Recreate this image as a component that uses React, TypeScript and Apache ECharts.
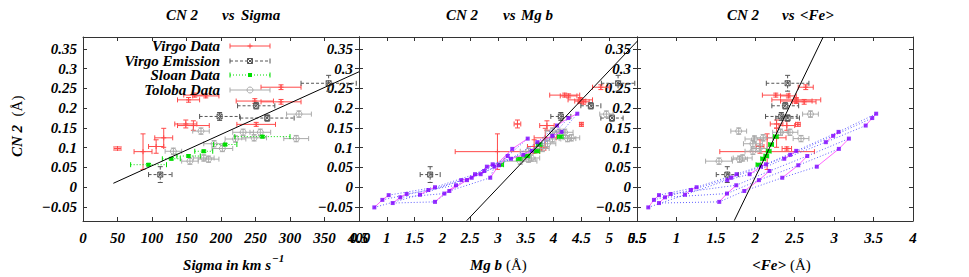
import React, { useEffect, useRef } from "react";
import * as echarts from "echarts";

const FONT = '"Liberation Serif", "DejaVu Serif", serif';

// ---- axes ----
const yTickValues = [-0.05, 0, 0.05, 0.1, 0.15, 0.2, 0.25, 0.3, 0.35];
const yRange = [-0.0854, 0.38];
const sigmaRange = [0, 400];
const mgbRange = [0.5, 5.5];
const feRange = [0.5, 4];

// ---- Virgo Data ----
const virgoSigma = [50, 87, 106, 117, 149, 160, 153, 162, 178, 287, 249, 287, 251];
const virgoSigmaErr = [5, 13, 11, 13, 16, 23, 16, 16, 19, 29, 27, 29, 28];
const virgoMgb = [3.78, 2.99, 3.65, 3.85, 3.35, 3.88, 4.48, 4.2, 4.27, 4.85, 4.48, 4.54, 4.5];
const virgoMgbErr = [0.08, 0.76, 0.12, 0.2, 0.06, 0.13, 0.22, 0.27, 0.15, 0.15, 0.1, 0.1, 0.03];
const virgoFe = [2.4, 2.15, 2.06, 2.27, 2.27, 2.4, 2.52, 2.26, 2.42, 2.64, 2.52, 2.62, 2.54];
const virgoFeErr = [0.06, 0.6, 0.05, 0.12, 0.08, 0.1, 0.31, 0.17, 0.1, 0.095, 0.2, 0.15, 0.03];
const virgoCN2 = [0.098, 0.09, 0.103, 0.125, 0.16, 0.156, 0.221, 0.233, 0.231, 0.253, 0.218, 0.216, 0.159];
const virgoCN2Err = [0.004, 0.045, 0.017, 0.024, 0.01, 0.012, 0.006, 0.005, 0.005, 0.006, 0.006, 0.006, 0.005];

// ---- Virgo Emission ----
const emSigma = [112, 198, 251, 267, 356];
const emSigmaErr = [17, 29, 27, 39, 40];
const emMgb = [1.78, 4.13, 4.67, 5.05, 5.16];
const emMgbErr = [0.18, 0.18, 0.18, 0.2, 0.3];
const emFe = [1.645, 2.33, 2.38, 2.41, 2.41];
const emFeErr = [0.14, 0.2, 0.17, 0.15, 0.27];
const emCN2 = [0.032, 0.179, 0.206, 0.175, 0.263];
const emCN2Err = [0.02, 0.01, 0.008, 0.008, 0.02];

// ---- Sloan Data ----
const sloanSigma = [95, 128, 153, 175, 206, 260];
const sloanSigmaErr = [26, 13, 17, 13, 17, 40];
const sloanMgb = [3.05, 3.38, 3.52, 3.7, 3.74, 4.12];
const sloanMgbErr = [0.05, 0.05, 0.05, 0.05, 0.05, 0.05];
const sloanFe = [2.04, 2.1, 2.14, 2.17, 2.2, 2.26];
const sloanFeErr = [0.03, 0.03, 0.03, 0.03, 0.03, 0.03];
const sloanCN2 = [0.057, 0.072, 0.079, 0.091, 0.108, 0.128];
const sloanCN2Err = [0.003, 0.003, 0.003, 0.003, 0.003, 0.003];

// ---- Toloba Data ----
const tolSigma = [131, 155, 175, 182, 171, 190, 202, 221, 232, 248, 257, 309, 313];
const tolSigmaErr = [12, 12, 15, 15, 12, 15, 15, 15, 15, 18, 15, 18, 18];
const tolMgb = [3.55, 3.4, 3.6, 3.55, 3.98, 3.89, 3.8, 3.98, 4.2, 4.32, 4.1, 4.25, 4.95];
const tolMgbErr = [0.15, 0.3, 0.15, 0.12, 0.12, 0.15, 0.12, 0.15, 0.15, 0.15, 0.12, 0.15, 0.12];
const tolFe = [1.97, 1.54, 1.84, 1.8, 1.79, 1.97, 2.05, 1.99, 2.32, 2.1, 2.44, 2.58, 2.7];
const tolFeErr = [0.1, 0.17, 0.12, 0.1, 0.1, 0.12, 0.1, 0.12, 0.1, 0.12, 0.1, 0.1, 0.1];
const tolCN2 = [0.091, 0.066, 0.074, 0.071, 0.142, 0.11, 0.098, 0.122, 0.139, 0.125, 0.139, 0.123, 0.185];
const tolCN2Err = [0.008, 0.008, 0.008, 0.008, 0.008, 0.008, 0.008, 0.008, 0.008, 0.008, 0.008, 0.008, 0.008];

// ---- model grids: [metallicity][age] ----
const modelUMgb = [
  [0.776, 0.92, 1.034], [1.597, 1.747, 1.867], [2.34, 2.527, 2.586], [2.688, 2.8, 2.904],
  [3.234, 3.455, 3.606], [3.707, 3.977, 4.146], [4.061, 4.265, 4.426],
];
const modelUFe = [
  [0.643, 0.715, 0.779], [1.108, 1.184, 1.256], [1.645, 1.696, 1.763], [1.928, 2.072, 2.135],
  [2.367, 2.443, 2.519], [2.895, 2.988, 3.056], [3.4, 3.483, 3.533],
];
const modelUCN2 = [
  [-0.051, -0.032, -0.02], [-0.019, -0.007, 0.0], [0.018, 0.024, 0.033], [0.033, 0.052, 0.058],
  [0.072, 0.082, 0.092], [0.114, 0.13, 0.14], [0.156, 0.175, 0.186],
];
const modelDMgb = [
  [1.106, 1.243, 1.357], [1.867, 2.035, 2.245], [2.125, 2.442, 2.754], [2.86, 3.018, 3.174], [2.934, 3.257, 3.534],
];
const modelDFe = [
  [0.779, 0.855, 0.927], [1.543, 1.641, 1.759], [1.86, 2.046, 2.18], [2.342, 2.545, 2.659], [2.78, 3.06, 3.187],
];
const modelDCN2 = [
  [-0.04, -0.0255, -0.017], [-0.037, -0.016, 0.005], [-0.0095, 0.018, 0.041], [0.024, 0.0556, 0.079], [0.052, 0.097, 0.123],
];

// ---- fit lines ----
const fitSigmaX = [44, 400];
const fitSigmaY = [0.01, 0.292];
const fitMgbX = [2.437, 5.55];
const fitMgbY = [-0.0846, 0.376];
const fitFeX = [1.733, 2.861];
const fitFeY = [-0.0846, 0.38];

const RED = "#ff4a4a";
const DGRAY = "#555555";
const GREEN = "#00dd00";
const LGRAY = "#ababab";
const PURPLE = "#7a00ff";
const BLUE = "#6060ff";
const MAGENTA = "#ff66ff";

type Marker = "plus" | "xbox" | "square" | "circle";

function markerShapes(cx: number, cy: number, marker: Marker, color: string): any[] {
  const s = { stroke: color, lineWidth: 1, fill: "none" };
  if (marker === "plus") {
    return [
      { type: "line", shape: { x1: cx - 2.5, y1: cy, x2: cx + 2.5, y2: cy }, style: s },
      { type: "line", shape: { x1: cx, y1: cy - 2.5, x2: cx, y2: cy + 2.5 }, style: s },
    ];
  }
  if (marker === "xbox") {
    return [
      { type: "rect", shape: { x: cx - 2.5, y: cy - 2.5, width: 5, height: 5 }, style: s },
      { type: "line", shape: { x1: cx - 2.5, y1: cy - 2.5, x2: cx + 2.5, y2: cy + 2.5 }, style: s },
      { type: "line", shape: { x1: cx - 2.5, y1: cy + 2.5, x2: cx + 2.5, y2: cy - 2.5 }, style: s },
    ];
  }
  if (marker === "square") {
    return [{ type: "rect", shape: { x: cx - 2, y: cy - 2, width: 4, height: 4 }, style: { fill: color } }];
  }
  return [{ type: "circle", shape: { cx, cy, r: 3 }, style: s }];
}

function errorSeries(
  gridIdx: number, xs: number[], xe: number[], ys: number[], ye: number[],
  color: string, dash: number[] | null, marker: Marker, z: number
) {
  return {
    type: "custom",
    xAxisIndex: gridIdx,
    yAxisIndex: gridIdx,
    silent: true,
    z,
    encode: { x: 0, y: 1 },
    data: xs.map((x, i) => [x, ys[i], xe[i], ye[i]]),
    renderItem: (_p: any, api: any) => {
      const x = api.value(0), y = api.value(1), dx = api.value(2), dy = api.value(3);
      const c = api.coord([x, y]);
      const l = api.coord([x - dx, y]);
      const r = api.coord([x + dx, y]);
      const t = api.coord([x, y + dy]);
      const b = api.coord([x, y - dy]);
      const st: any = { stroke: color, lineWidth: 1, fill: "none" };
      if (dash) st.lineDash = dash;
      const cap = 2.5;
      const children: any[] = [
        { type: "line", shape: { x1: l[0], y1: c[1], x2: r[0], y2: c[1] }, style: st },
        { type: "line", shape: { x1: c[0], y1: t[1], x2: c[0], y2: b[1] }, style: st },
        { type: "line", shape: { x1: l[0], y1: c[1] - cap, x2: l[0], y2: c[1] + cap }, style: { stroke: color, lineWidth: 1 } },
        { type: "line", shape: { x1: r[0], y1: c[1] - cap, x2: r[0], y2: c[1] + cap }, style: { stroke: color, lineWidth: 1 } },
        { type: "line", shape: { x1: c[0] - cap, y1: t[1], x2: c[0] + cap, y2: t[1] }, style: { stroke: color, lineWidth: 1 } },
        { type: "line", shape: { x1: c[0] - cap, y1: b[1], x2: c[0] + cap, y2: b[1] }, style: { stroke: color, lineWidth: 1 } },
        ...markerShapes(c[0], c[1], marker, color),
      ];
      return { type: "group", children };
    },
  };
}

function modelSeries(gridIdx: number, xGrid: number[][], yGrid: number[][]) {
  const out: any[] = [];
  const nAge = xGrid[0].length;
  for (let a = 0; a < nAge; a++) {
    out.push({
      type: "line", xAxisIndex: gridIdx, yAxisIndex: gridIdx, silent: true, z: 5,
      symbol: "none", lineStyle: { color: BLUE, width: 1, type: [1, 2] },
      data: xGrid.map((row, zi) => [row[a], yGrid[zi][a]]),
    });
  }
  xGrid.forEach((row, zi) => {
    out.push({
      type: "line", xAxisIndex: gridIdx, yAxisIndex: gridIdx, silent: true, z: 5,
      symbol: "none", lineStyle: { color: MAGENTA, width: 1 },
      data: row.map((v, a) => [v, yGrid[zi][a]]),
    });
  });
  const pts: number[][] = [];
  xGrid.forEach((row, zi) => row.forEach((v, a) => pts.push([v, yGrid[zi][a]])));
  out.push({
    type: "scatter", xAxisIndex: gridIdx, yAxisIndex: gridIdx, silent: true, z: 6,
    symbol: "rect", symbolSize: 4, itemStyle: { color: PURPLE }, data: pts,
  });
  return out;
}

function fitSeries(gridIdx: number, xs: number[], ys: number[]) {
  return {
    type: "line", xAxisIndex: gridIdx, yAxisIndex: gridIdx, silent: true, z: 7, clip: true,
    symbol: "none", lineStyle: { color: "#000", width: 1 },
    data: xs.map((x, i) => [x, ys[i]]),
  };
}

const labelFont = { fontFamily: FONT, fontStyle: "italic", fontWeight: "bold", fontSize: 15, color: "#000" };
const frameLine = { show: true, onZero: false, lineStyle: { color: "#333", width: 1 } };

function buildOption() {
  const grids = [
    { left: 83, top: 37, width: 276, height: 184 },
    { left: 359, top: 37, width: 278, height: 184 },
    { left: 637, top: 37, width: 276, height: 184 },
  ];
  const xr = [sigmaRange, mgbRange, feRange];
  const xi = [50, 0.5, 0.5];
  const xAxis: any[] = [];
  const yAxis: any[] = [];
  for (let i = 0; i < 3; i++) {
    xAxis.push({
      type: "value", gridIndex: i, position: "bottom", min: xr[i][0], max: xr[i][1], interval: xi[i],
      axisLine: frameLine, splitLine: { show: false },
      axisTick: { show: true, inside: true, length: 4, lineStyle: { color: "#333" } },
      axisLabel: { ...labelFont, margin: 9, showMinLabel: true, showMaxLabel: true, formatter: (v: number) => String(v) },
    });
  }
  for (let i = 0; i < 3; i++) {
    xAxis.push({
      type: "value", gridIndex: i, position: "top", min: xr[i][0], max: xr[i][1], interval: xi[i],
      axisLine: frameLine, splitLine: { show: false },
      axisTick: { show: true, inside: true, length: 4, lineStyle: { color: "#333" } },
      axisLabel: { show: false },
    });
  }
  const yFmt = (v: number) => {
    const r = Math.round(v * 100) / 100;
    return r < 0 ? "\u2212" + String(-r) : String(r);
  };
  for (let i = 0; i < 3; i++) {
    yAxis.push({
      type: "value", gridIndex: i, position: "left", min: yRange[0], max: yRange[1],
      axisLine: frameLine, splitLine: { show: false },
      axisTick: { show: true, inside: true, length: 4, customValues: yTickValues, lineStyle: { color: "#333" } },
      axisLabel: { ...labelFont, margin: 6, customValues: yTickValues, formatter: yFmt },
    });
  }
  for (let i = 0; i < 3; i++) {
    yAxis.push({
      type: "value", gridIndex: i, position: "right", min: yRange[0], max: yRange[1],
      axisLine: frameLine, splitLine: { show: false },
      axisTick: { show: true, inside: true, length: 4, customValues: yTickValues, lineStyle: { color: "#333" } },
      axisLabel: { show: false },
    });
  }

  const series: any[] = [];
  const sets = [
    { xs: [virgoSigma, virgoMgb, virgoFe], xe: [virgoSigmaErr, virgoMgbErr, virgoFeErr], ys: virgoCN2, ye: virgoCN2Err, color: RED, dash: null, marker: "plus" as Marker, z: 2 },
    { xs: [emSigma, emMgb, emFe], xe: [emSigmaErr, emMgbErr, emFeErr], ys: emCN2, ye: emCN2Err, color: DGRAY, dash: [3, 2], marker: "xbox" as Marker, z: 3 },
    { xs: [sloanSigma, sloanMgb, sloanFe], xe: [sloanSigmaErr, sloanMgbErr, sloanFeErr], ys: sloanCN2, ye: sloanCN2Err, color: GREEN, dash: [1, 2], marker: "square" as Marker, z: 4 },
    { xs: [tolSigma, tolMgb, tolFe], xe: [tolSigmaErr, tolMgbErr, tolFeErr], ys: tolCN2, ye: tolCN2Err, color: LGRAY, dash: null, marker: "circle" as Marker, z: 3 },
  ];
  for (let g = 0; g < 3; g++) {
    for (const s of sets) {
      series.push(errorSeries(g, s.xs[g], s.xe[g], s.ys, s.ye, s.color, s.dash, s.marker, s.z));
    }
  }
  series.push(...modelSeries(1, modelUMgb, modelUCN2));
  series.push(...modelSeries(1, modelDMgb, modelDCN2));
  series.push(...modelSeries(2, modelUFe, modelUCN2));
  series.push(...modelSeries(2, modelDFe, modelDCN2));
  series.push(fitSeries(0, fitSigmaX, fitSigmaY));
  series.push(fitSeries(1, fitMgbX, fitMgbY));
  series.push(fitSeries(2, fitFeX, fitFeY));

  const bi = { fontFamily: FONT, fontStyle: "italic", fontWeight: "bold", fontSize: 15, fill: "#000" };
  const rg = { fontFamily: FONT, fontSize: 15, fill: "#000" };
  const txt = (text: string, x: number, y: number, style: any, align = "left", extra: any = {}) => ({
    type: "text", x, y, silent: true, z: 100,
    style: { text, ...style, align, verticalAlign: "middle" }, ...extra,
  });

  const graphic: any[] = [
    // titles
    txt("CN 2", 166, 15, bi), txt("vs", 222, 15, bi), txt("Sigma", 241, 15, bi),
    txt("CN 2", 446, 15, bi), txt("vs", 503, 15, bi), txt("Mg b", 521, 15, bi),
    txt("CN 2", 727, 15, bi), txt("vs", 782, 15, bi), txt("<Fe>", 800, 15, bi),
    // y axis name
    txt("CN 2", 17, 141, bi, "center", { rotation: Math.PI / 2 }),
    txt("(\u00c5)", 17, 106, rg, "center", { rotation: Math.PI / 2 }),
    // x axis names
    txt("Sigma in km s", 271, 265, bi, "right"),
    txt("\u22121", 272, 258, { ...bi, fontSize: 11 }, "left"),
    txt("Mg b", 502, 265, bi, "right"),
    txt("(\u00c5)", 506, 265, rg, "left"),
    txt("<Fe>", 786, 265, bi, "right"),
    txt("(\u00c5)", 790, 265, rg, "left"),
  ];

  const legendRows = [
    { label: "Virgo Data", color: RED, dash: null, marker: "plus" as Marker, y: 46 },
    { label: "Virgo Emission", color: DGRAY, dash: [3, 2], marker: "xbox" as Marker, y: 61 },
    { label: "Sloan Data", color: GREEN, dash: [1, 2], marker: "square" as Marker, y: 75 },
    { label: "Toloba Data", color: LGRAY, dash: null, marker: "circle" as Marker, y: 90 },
  ];
  for (const r of legendRows) {
    graphic.push(txt(r.label, 220, r.y, bi, "right"));
    const st: any = { stroke: r.color, lineWidth: 1 };
    if (r.dash) st.lineDash = r.dash;
    graphic.push({ type: "line", silent: true, z: 100, shape: { x1: 230, y1: r.y, x2: 270, y2: r.y }, style: st });
    graphic.push({ type: "line", silent: true, z: 100, shape: { x1: 230, y1: r.y - 2.5, x2: 230, y2: r.y + 2.5 }, style: { stroke: r.color, lineWidth: 1 } });
    graphic.push({ type: "line", silent: true, z: 100, shape: { x1: 270, y1: r.y - 2.5, x2: 270, y2: r.y + 2.5 }, style: { stroke: r.color, lineWidth: 1 } });
    for (const m of markerShapes(250, r.y, r.marker, r.color)) {
      graphic.push({ ...m, silent: true, z: 100 });
    }
  }

  return {
    animation: false,
    backgroundColor: "#fff",
    textStyle: { fontFamily: FONT },
    grid: grids,
    xAxis,
    yAxis,
    series,
    graphic,
  };
}

export default function App() {
  const ref = useRef<HTMLDivElement>(null);
  useEffect(() => {
    if (!ref.current) return;
    const chart = echarts.init(ref.current, undefined, { renderer: "svg" });
    chart.setOption(buildOption() as any);
    return () => chart.dispose();
  }, []);
  return (
    <div
      ref={ref}
      style={{ position: "fixed", left: 0, top: 0, width: 969, height: 277, background: "#fff" }}
    />
  );
}
